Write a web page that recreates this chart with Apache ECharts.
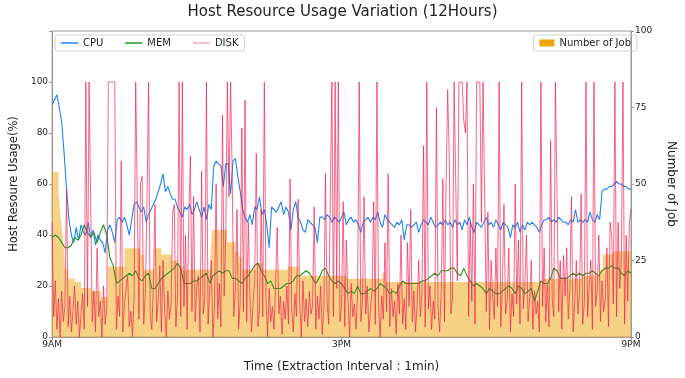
<!DOCTYPE html>
<html>
<head>
<meta charset="utf-8">
<script src="https://cdn.jsdelivr.net/npm/echarts@6/dist/echarts.min.js"></script>
<style>
    html, body { margin: 0; padding: 0; background: #fff; }
    #main { width: 685px; height: 378px; }
</style>
</head>
<body>
<div id="main"></div>
<script>
// x labels (minutes from 9AM)
var timeTicks = {0: '9AM', 360: '3PM', 720: '9PM'};

// CPU usage, one value every 3 min
var cpuStep = 3;
var cpu = [
    91,93,95,90,84,72,58,46,40,37,43,38,44,41,40,45,39,42,36,40,
    38,37,33,42,44,41,37,46,47,45,47,44,40,46,52,53,51,49,51,45,
    48,50,52,54,57,60,64,57,59,56,54,54,51,49,47,51,50,52,48,50,
    53,50,47,51,46,52,50,67,69,68,67,59,68,68,56,69,70,63,57,50,
    47,45,48,44,51,50,55,48,50,44,35,51,50,49,51,53,48,51,49,42,
    50,53,47,45,42,41,46,45,44,43,37,47,47,46,48,47,45,47,46,45,
    47,49,44,46,47,45,46,44,41,45,46,47,45,47,46,49,45,43,48,46,
    45,44,43,45,44,46,38,44,44,43,44,45,41,44,46,45,44,47,45,43,
    44,45,44,46,44,45,43,46,44,45,42,46,44,47,43,41,45,44,43,45,
    47,44,45,43,46,44,42,45,44,43,39,44,43,45,41,44,42,45,44,45,
    44,43,41,44,46,46,47,45,46,45,47,46,45,45,44,46,45,50,45,46,
    45,46,45,49,46,45,48,46,57,58,58,59,59,60,61,60,60,59,59,58,58
];

// MEM usage, one value every 4 min
var memStep = 4;
var mem = [
    39,40,39,37,35,35,36,39,38,40,44,41,39,41,37,
    41,44,40,31,28,21,22,23,24,25,24,26,23,22,24,
    25,19,19,21,23,24,25,26,27,29,27,21,21,21,22,
    22,23,24,25,21,24,25,26,25,26,26,23,23,22,21,
    23,24,26,28,29,26,24,21,22,19,19,19,20,21,21,
    22,24,24,25,26,25,23,21,23,26,27,24,22,21,22,
    21,19,17,18,17,20,17,17,18,19,18,19,21,20,19,
    17,18,17,20,22,21,21,21,21,21,22,22,23,24,25,
    24,26,26,26,27,27,25,24,27,24,22,20,21,20,19,
    17,19,18,17,17,18,19,20,19,17,20,19,17,18,19,
    14,18,22,21,21,23,27,26,23,23,23,24,25,24,25,
    24,25,25,26,25,24,26,27,27,28,27,27,25,24,26,25
];

// DISK usage, one value every 2 min
var diskStep = 2;
var disk = [
    45,8,22,3,15,0,18,6,12,58,4,16,2,10,20,5,14,0,9,17,3,100,12,100,100,6,18,2,35,8,
    14,0,20,5,11,100,100,100,100,100,3,16,8,69,2,13,19,24,4,10,0,15,100,100,7,60,63,5,17,52,
    100,9,3,20,52,6,14,28,2,30,11,0,18,7,13,49,52,4,16,100,8,100,12,40,3,47,71,10,55,6,
    20,24,2,65,9,15,100,5,18,30,0,12,60,7,21,4,87,16,40,100,55,100,65,8,19,50,3,14,82,10,
    93,6,45,17,2,13,22,72,4,11,50,8,100,15,0,19,6,12,3,21,43,9,16,1,14,7,20,5,62,11,
    2,17,8,54,13,0,22,6,15,4,18,9,12,51,3,16,7,20,1,11,64,14,5,54,100,8,100,19,100,6,
    12,53,4,38,15,0,21,8,13,3,17,100,6,14,55,9,20,2,11,18,53,5,100,12,0,16,7,37,10,64,
    4,19,8,14,1,21,9,40,5,15,3,37,12,50,6,18,2,13,30,8,17,75,4,100,11,20,3,14,7,90,
    12,2,18,62,6,60,97,70,9,15,100,100,22,100,100,100,85,80,100,8,45,14,60,5,100,100,100,45,100,100,
    10,49,3,30,16,7,35,12,100,4,19,52,9,14,35,2,17,8,60,13,38,5,100,11,20,40,6,15,30,3,
    18,9,14,2,100,12,35,6,21,4,77,15,8,100,100,10,30,3,32,16,35,7,19,55,2,13,30,9,17,56,
    5,14,100,8,20,30,3,100,12,18,40,6,22,10,15,35,4,45,40,13,100,8,45,19,30,100,5,40,14,45,50
];

// Number of Job: minute where the count changes, and the count from there on
var jobMinutes = [0, 8, 10, 12, 14, 16, 20, 28, 36, 49, 61, 69, 90, 110, 114, 127, 136, 149, 157, 163,
    197, 199, 218, 228, 232, 236, 254, 262, 293, 307, 366, 411, 415, 610, 659, 681, 685, 698, 720];
var jobCounts = [54, 47, 41, 36, 31, 22, 19, 18, 16, 15, 13, 23, 29, 27, 22, 29, 27, 25, 23, 22,
    26, 35, 31, 28, 26, 22, 24, 22, 23, 20, 19, 21, 18, 19, 20, 22, 27, 28, 28];

function toPairs(arr, step) {
    return arr.map(function (v, i) { return [i * step, v]; });
}

var myChart = echarts.init(document.getElementById('main'));
var font = 'DejaVu Sans';

var option = {
    animation: false,
    backgroundColor: '#fff',
    textStyle: {fontFamily: font},
    title: {
        text: 'Host Resource Usage Variation (12Hours)',
        left: 'center',
        top: 0,
        textStyle: {fontFamily: font, fontSize: 15, fontWeight: 'normal', color: '#222'}
    },
    legend: [{
        data: ['CPU', 'MEM', 'DISK'],
        left: 55,
        top: 35,
        icon: 'rect',
        itemWidth: 17,
        itemHeight: 1.5,
        itemGap: 22,
        padding: [3, 6],
        borderColor: '#d0d0d0',
        borderWidth: 1,
        borderRadius: 2,
        textStyle: {fontFamily: font, fontSize: 10, color: '#222'}
    }, {
        data: ['Number of Job'],
        right: 48,
        top: 35,
        icon: 'rect',
        itemWidth: 15,
        itemHeight: 7,
        padding: [3, 6],
        borderColor: '#d0d0d0',
        borderWidth: 1,
        borderRadius: 2,
        textStyle: {fontFamily: font, fontSize: 10, color: '#222'}
    }],
    grid: {
        left: 50,
        right: 45,
        top: 31,
        bottom: 36,
        show: true,
        borderColor: '#999',
        borderWidth: 1
    },
    xAxis: {
        type: 'value',
        min: 0,
        max: 720,
        interval: 360,
        name: 'Time (Extraction Interval : 1min)',
        nameLocation: 'middle',
        nameGap: 24,
        nameTextStyle: {fontFamily: font, fontSize: 12, color: '#222'},
        axisLine: {lineStyle: {color: '#999'}},
        axisTick: {length: 3, lineStyle: {color: '#999'}},
        axisLabel: {
            fontFamily: font, fontSize: 9, color: '#222', margin: 3,
            formatter: function (v) { return timeTicks[v] || ''; }
        },
        splitLine: {show: false}
    },
    yAxis: [{
        type: 'value',
        min: 0,
        max: 120,
        interval: 20,
        name: 'Host Resoure Usage(%)',
        nameLocation: 'middle',
        nameGap: 32,
        nameTextStyle: {fontFamily: font, fontSize: 11.5, color: '#222'},
        axisLine: {show: true, lineStyle: {color: '#999'}},
        axisTick: {show: true, length: 3, lineStyle: {color: '#999'}},
        axisLabel: {
            fontFamily: font, fontSize: 9, color: '#222', margin: 4,
            formatter: function (v) { return v > 100 ? '' : v; }
        },
        splitLine: {show: false}
    }, {
        type: 'value',
        min: 0,
        max: 100,
        interval: 25,
        position: 'right',
        name: 'Number of Job',
        nameLocation: 'middle',
        nameRotate: -90,
        nameGap: 34,
        nameTextStyle: {fontFamily: font, fontSize: 12, color: '#222'},
        axisLine: {show: true, lineStyle: {color: '#999'}},
        axisTick: {show: true, length: 3, lineStyle: {color: '#999'}},
        axisLabel: {fontFamily: font, fontSize: 9, color: '#222', margin: 4},
        splitLine: {show: false}
    }],
    series: [{
        name: 'Number of Job',
        type: 'line',
        yAxisIndex: 1,
        step: 'end',
        symbol: 'none',
        z: 1,
        data: jobMinutes.map(function (m, i) { return [m, jobCounts[i]]; }),
        lineStyle: {width: 0},
        itemStyle: {color: '#f0a30a'},
        areaStyle: {color: '#f0a30a', opacity: 0.5}
    }, {
        name: 'CPU',
        type: 'line',
        symbol: 'none',
        z: 2,
        data: toPairs(cpu, cpuStep),
        itemStyle: {color: '#1e85f5'},
        lineStyle: {color: '#1e85f5', width: 1.1}
    }, {
        name: 'MEM',
        type: 'line',
        symbol: 'none',
        z: 3,
        data: toPairs(mem, memStep),
        itemStyle: {color: '#1f9a1f'},
        lineStyle: {color: '#1f9a1f', width: 1.1}
    }, {
        name: 'DISK',
        type: 'line',
        symbol: 'none',
        z: 4,
        data: toPairs(disk, diskStep),
        itemStyle: {color: '#f7a8bc'},
        lineStyle: {color: 'rgba(242,30,80,0.68)', width: 1}
    }]
};

myChart.setOption(option);
window.onresize = myChart.resize;
</script>
</body>
</html>
